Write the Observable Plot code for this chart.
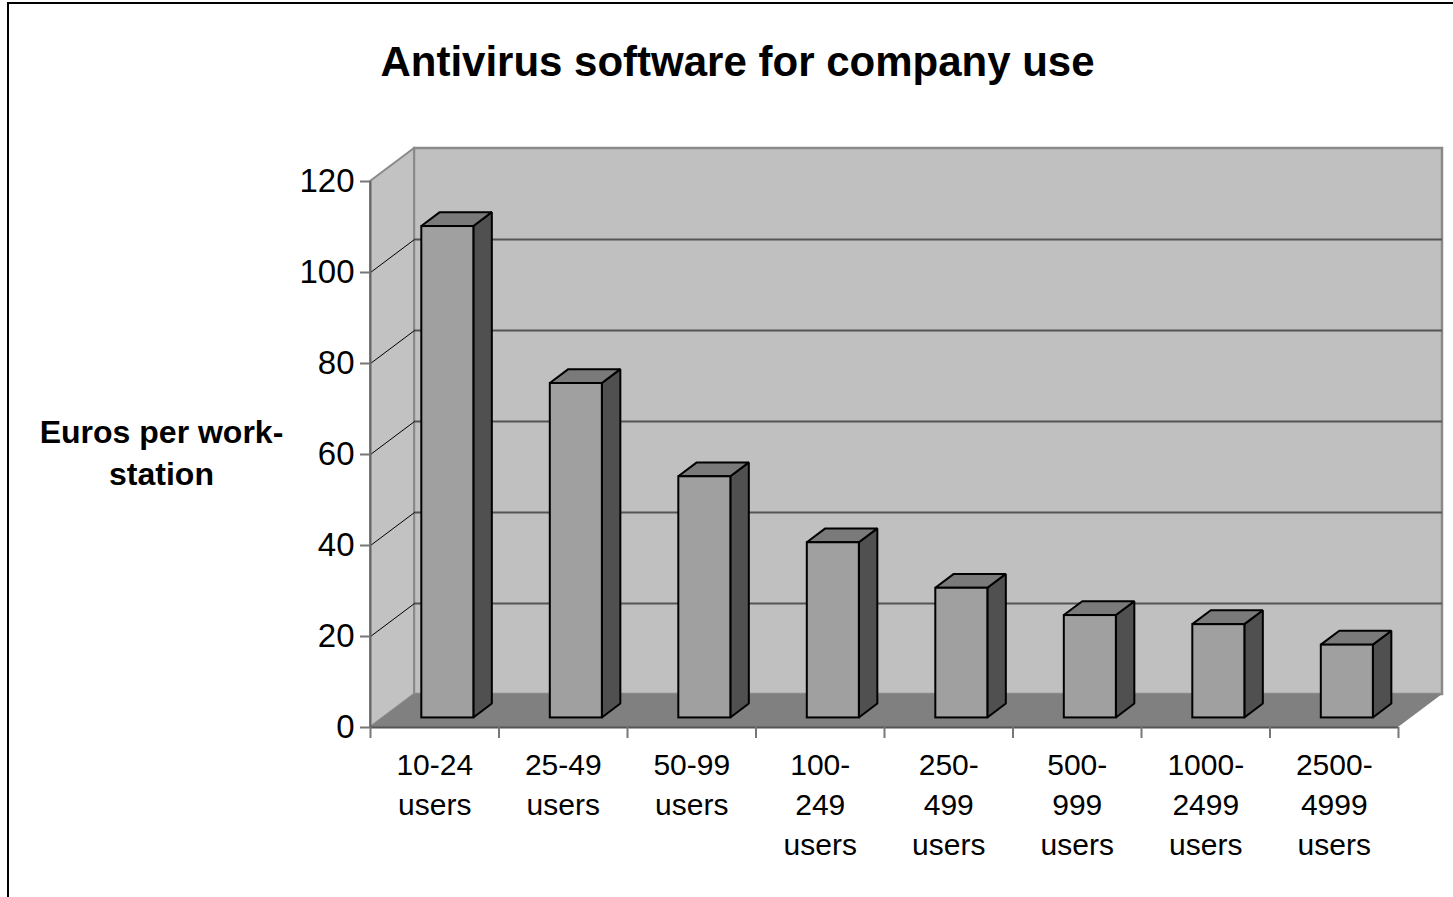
<!DOCTYPE html>
<html>
<head>
<meta charset="utf-8">
<script src="https://cdn.jsdelivr.net/npm/d3@7"></script>
<script src="https://cdn.jsdelivr.net/npm/@observablehq/plot@0.6"></script>
<style>
  html, body { margin: 0; padding: 0; background: #fff; }
  #page { position: relative; width: 1453px; height: 897px; overflow: hidden; background: #fff; }
  #border { position: absolute; left: 7px; top: 2px; width: 1470px; height: 910px;
            border-top: 2px solid #000; border-left: 2px solid #000; box-sizing: border-box; }
  #title { position: absolute; left: 0; top: 37px; width: 1475px; text-align: center;
           font: bold 42px "Liberation Sans", Arial, sans-serif; line-height: 50px; color: #000; }
  #chart { position: absolute; left: 0; top: 130px; }
  #chart svg { overflow: visible; }
</style>
</head>
<body>
<div id="page">
  <div id="border"></div>
  <div id="title"></div>
  <div id="chart"></div>
</div>
<script>
// Price per workstation by licence band
const title = "Antivirus software for company use";
const yLabel = "Euros per work-\nstation";
const categories = [
  "10-24\nusers", "25-49\nusers", "50-99\nusers", "100-\n249\nusers",
  "250-\n499\nusers", "500-\n999\nusers", "1000-\n2499\nusers", "2500-\n4999\nusers"
];
const values = [108, 73.5, 53, 38.5, 28.5, 22.5, 20.5, 16];
const yTicks = [0, 20, 40, 60, 80, 100, 120];

document.getElementById("title").textContent = title;

// Layout
const width = 1453, height = 767;
const marginLeft = 370, marginRight = 55, marginTop = 51, marginBottom = 170;
const n = categories.length;
const yMax = d3.max(yTicks);
const plotW = width - marginLeft - marginRight;
const plotH = height - marginTop - marginBottom;

// Oblique projection: the depth of the box in pixels, turned into data units
const depthPx = {x: 44, y: -33};
const unitX = n / plotW, unitY = yMax / plotH;
const DX = depthPx.x * unitX;
const DY = -depthPx.y * unitY;

// Bar placement within each band and through the depth of the box
const barL = 0.30, barR = 0.705, barFront = 0.29, barBack = 0.71;

const bars = categories.map((label, i) => ({i, label, value: values[i]}));
const sideFaces = bars.flatMap(b => [barFront, barBack].map(t => ({
  bar: b.i, x: b.i + barR + t * DX, y1: t * DY, y2: b.value + t * DY
})));
const topFaces = bars.flatMap(b => [barFront, barBack].map(t => ({
  bar: b.i, y: b.value + t * DY, x1: b.i + barL + t * DX, x2: b.i + barR + t * DX
})));
const sideWall = [{x: 0, y1: 0, y2: yMax}, {x: DX, y1: DY, y2: yMax + DY}];
const floor = [{y: 0, x1: 0, x2: n}, {y: DY, x1: DX, x2: n + DX}];
const inner = yTicks.filter(t => t > 0 && t < yMax);

const chart = Plot.plot({
  width, height, marginLeft, marginRight, marginTop, marginBottom,
  x: {type: "linear", domain: [0, n], axis: null},
  y: {type: "linear", domain: [0, yMax], axis: null},
  style: {fontFamily: "'Liberation Sans', Arial, sans-serif", fontSize: "30px", color: "#000", background: "transparent", overflow: "visible"},
  marks: [
    // back wall
    Plot.rect([0], {x1: DX, x2: n + DX, y1: DY, y2: yMax + DY, fill: "#c0c0c0", stroke: "#8a8a8a", strokeWidth: 2.5}),
    // left wall
    Plot.areaY(sideWall, {x: "x", y1: "y1", y2: "y2", fill: "#c2c2c2", stroke: "#8a8a8a", strokeWidth: 2}),
    // floor
    Plot.areaX(floor, {y: "y", x1: "x1", x2: "x2", fill: "#808080"}),
    // gridlines on the back wall and the left wall
    Plot.ruleY(inner, {y: d => d + DY, x1: DX, x2: n + DX, stroke: "#555", strokeWidth: 2}),
    Plot.link(inner, {x1: 0, y1: d => d, x2: DX, y2: d => d + DY, stroke: "#000", strokeWidth: 1}),
    // bars: side, top, front
    Plot.areaY(sideFaces, {x: "x", y1: "y1", y2: "y2", z: "bar", fill: "#505050", stroke: "#000", strokeWidth: 2, strokeLinejoin: "miter"}),
    Plot.areaX(topFaces, {y: "y", x1: "x1", x2: "x2", z: "bar", fill: "#7a7a7a", stroke: "#000", strokeWidth: 2, strokeLinejoin: "miter"}),
    Plot.rect(bars, {
      x1: d => d.i + barL + barFront * DX, x2: d => d.i + barR + barFront * DX,
      y1: barFront * DY, y2: d => d.value + barFront * DY,
      fill: "#a0a0a0", stroke: "#000", strokeWidth: 2
    }),
    // axes
    Plot.ruleX([0], {y1: 0, y2: yMax, stroke: "#666", strokeWidth: 2}),
    Plot.ruleY(yTicks, {x1: -10 * unitX, x2: 0, stroke: "#777", strokeWidth: 2}),
    Plot.ruleY([0], {x1: 0, x2: n, stroke: "#555", strokeWidth: 2}),
    Plot.ruleX(d3.range(n + 1), {y1: 0, y2: -11 * unitY, stroke: "#777", strokeWidth: 2}),
    Plot.text(yTicks, {x: 0, y: d => d, text: d => String(d), dx: -16, textAnchor: "end", fontSize: 33}),
    Plot.text(bars, {x: d => d.i + 0.5, y: 0, text: "label", dy: 19, lineAnchor: "top", lineHeight: 1.333, fontSize: 30}),
    Plot.text([yLabel], {frameAnchor: "left", dx: -209, dy: -4, textAnchor: "middle", lineAnchor: "middle",
      lineHeight: 1.33, fontSize: 32, fontWeight: "bold"})
  ]
});
document.getElementById("chart").appendChild(chart);
</script>
</body>
</html>
